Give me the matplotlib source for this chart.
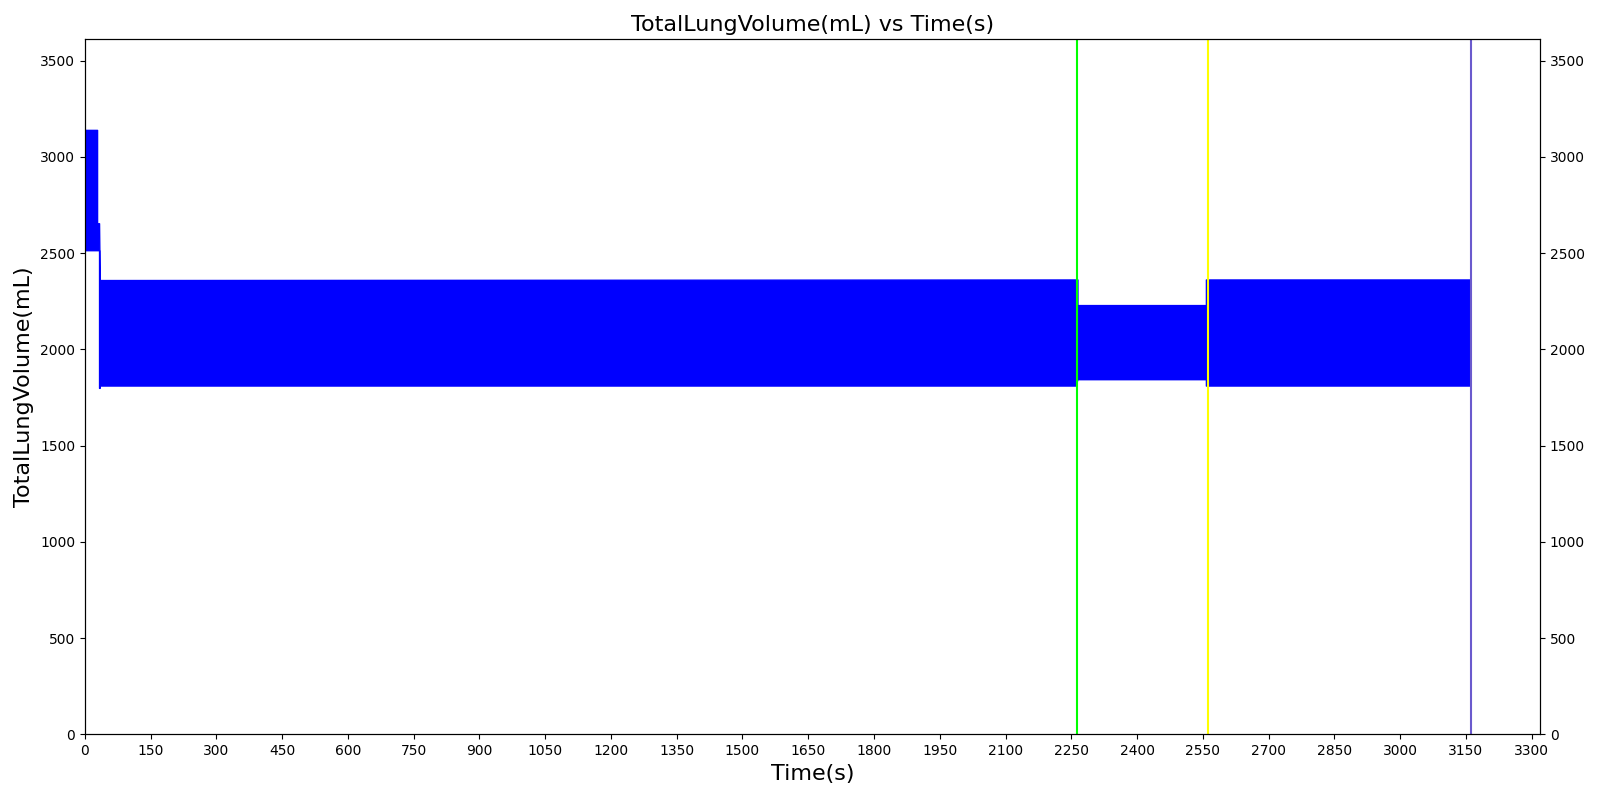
import numpy as np
import matplotlib
matplotlib.use('Agg')
import matplotlib.pyplot as plt

#
# Envolvente del volumen pulmonar (min / max de cada respiracion)
#
time_s = [0, 28, 28, 32.5, 32.5, 34, 34, 2260, 2260, 2264, 2264, 2557, 2557, 2565, 2565, 3160]
vol_hi = [3140, 3140, 2655, 2655, 2655, 2360, 2360, 2363, 2363, 2363, 2230, 2230, 2363, 2363, 2363, 2363]
vol_lo = [2515, 2515, 2515, 2515, 1800, 1800, 1812, 1812, 1812, 1845, 1845, 1845, 1812, 1812, 1812, 1812]

# Eventos (lineas verticales)
event_t = [2262, 2561, 3161]
event_c = ['#00ff00', '#ffff00', '#6a5acd']

xticks = np.arange(0, 3301, 150)
yticks = np.arange(0, 3501, 500)

fig = plt.figure(figsize=(16, 8), dpi=100)
ax = fig.add_axes([0.053, 0.082, 0.9095, 0.869])

ax.fill_between(time_s, vol_lo, vol_hi, color='blue', linewidth=1.0, edgecolor='blue')
for t, c in zip(event_t, event_c):
    ax.axvline(t, color=c, linewidth=1.5)

ax.set_xlim(0, 3319)
ax.set_ylim(0, 3611)
ax.set_xticks(xticks)
ax.set_yticks(yticks)
ax.set_title('TotalLungVolume(mL) vs Time(s)', fontsize=16)
ax.set_xlabel('Time(s)', fontsize=16)
ax.set_ylabel('TotalLungVolume(mL)', fontsize=16)

ax2 = ax.twinx()
ax2.set_ylim(ax.get_ylim())
ax2.set_yticks(yticks)

fig.savefig('out.png', dpi=100)
